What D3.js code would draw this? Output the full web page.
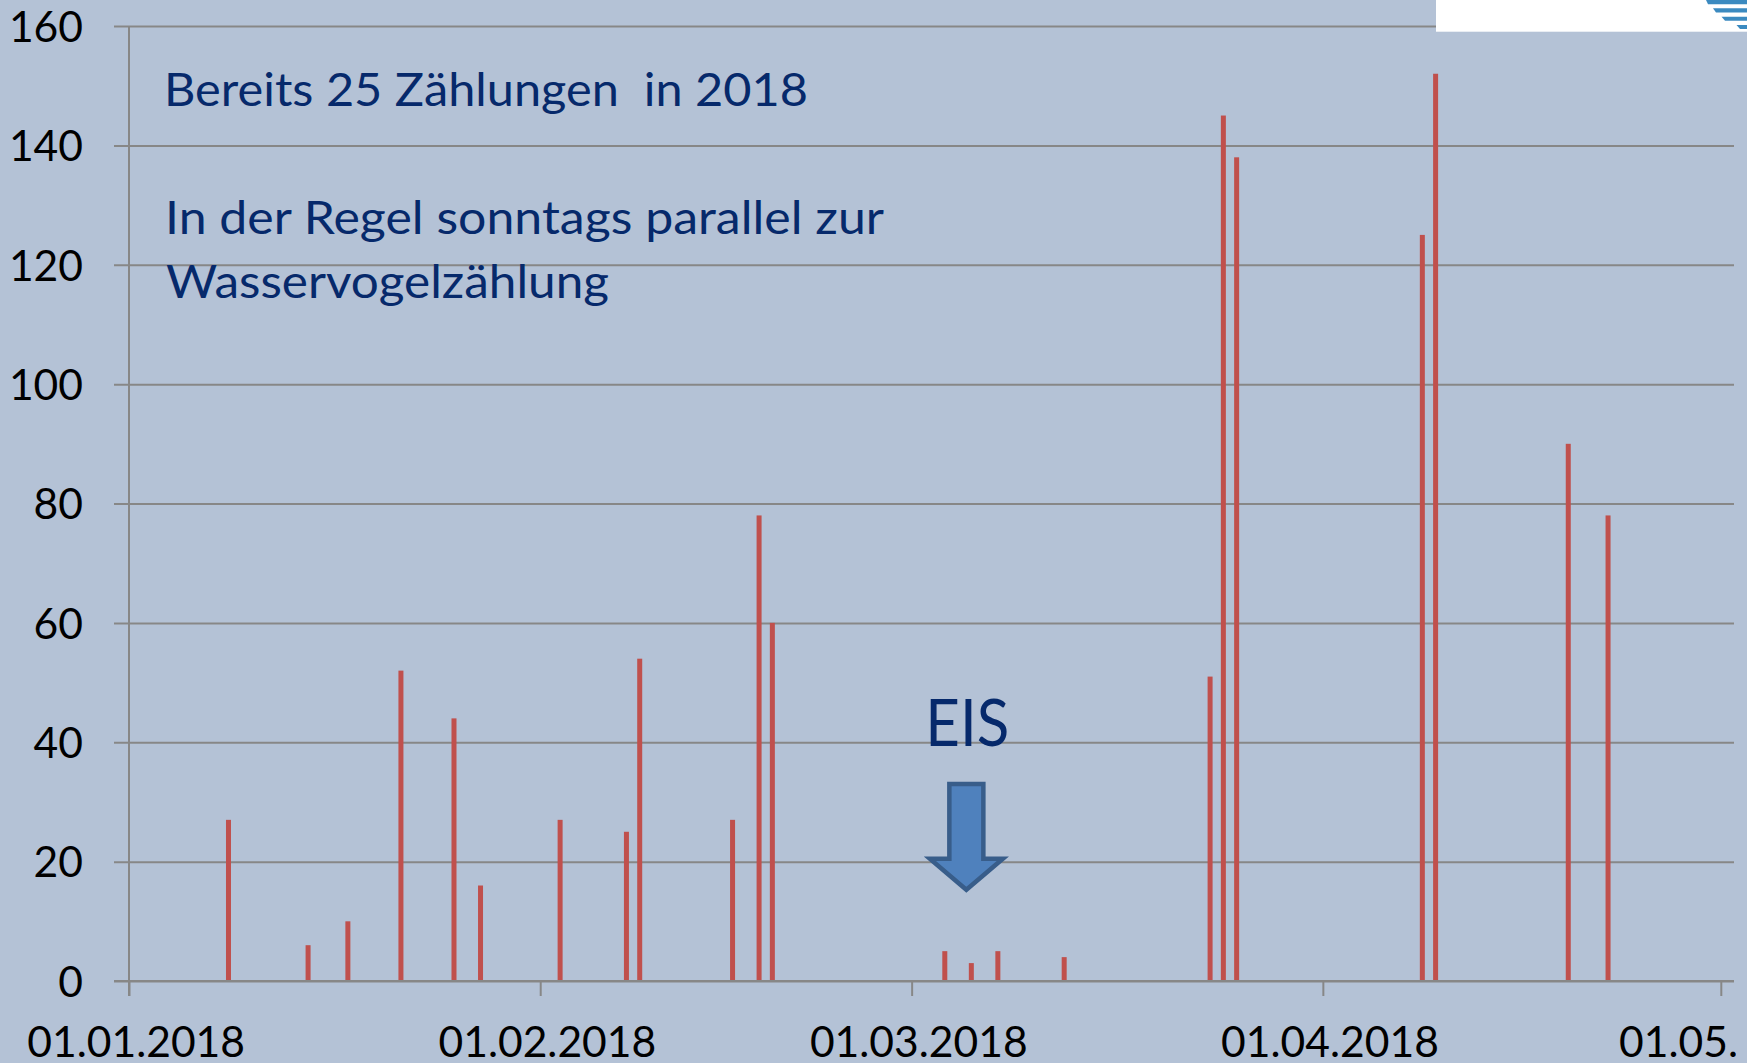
<!DOCTYPE html>
<html>
<head>
<meta charset="utf-8">
<script src="https://cdn.jsdelivr.net/npm/d3@7"></script>
<style>
  html, body { margin: 0; padding: 0; background: #b4c2d6; overflow: hidden; }
  svg { display: block; }
</style>
</head>
<body>
<svg id="chart" width="1747" height="1063"></svg>
<script>
// ---------------- DATA ----------------
const countDates = [
  "2018-01-08", "2018-01-14", "2018-01-17", "2018-01-21", "2018-01-25", "2018-01-27",
  "2018-02-02", "2018-02-07", "2018-02-08", "2018-02-15", "2018-02-17", "2018-02-18",
  "2018-03-03", "2018-03-05", "2018-03-07", "2018-03-12",
  "2018-03-23", "2018-03-24", "2018-03-25",
  "2018-04-08", "2018-04-09", "2018-04-19", "2018-04-22"
];
const countValues = [
  27, 6, 10, 52, 44, 16,
  27, 25, 54, 27, 78, 60,
  5, 3, 5, 4,
  51, 145, 138,
  125, 152, 90, 78
];
const yTickValues = [0, 20, 40, 60, 80, 100, 120, 140, 160];
const xTickDates = ["2018-01-01", "2018-02-01", "2018-03-01", "2018-04-01", "2018-05-01"];
const xTickLabels = ["01.01.2018", "01.02.2018", "01.03.2018", "01.04.2018", "01.05.2018"];
const noteLines = ["Bereits 25 Zählungen  in 2018", "In der Regel sonntags parallel zur", "Wasservogelzählung"];
const eisLabel = "EIS";
// annotation arrow (in data units)
const arrowDate = "2018-03-05T03:00:00Z";
const arrowTop = 33, arrowShoulder = 20.5, arrowTip = 15.3;

// ---------------- LAYOUT ----------------
const svg = d3.select("#chart");
const W = 1747, H = 1063;
const axisX = 129, plotRight = 1734, yTop = 26, yZero = 981;
const parse = s => new Date(s.length > 10 ? s : s + "T00:00:00Z");

const x = d3.scaleUtc()
  .domain([parse("2018-01-01"), parse("2018-05-01")])
  .range([axisX, 1720.8]);
const y = d3.scaleLinear().domain([0, 160]).range([yZero, yTop]);
const halfDay = (x(parse("2018-01-02")) - x(parse("2018-01-01"))) / 2;

const gridColor = "#878787";
const fontFam = "Lato, 'Open Sans', sans-serif";

svg.append("rect").attr("width", W).attr("height", H).attr("fill", "#b4c2d6");

const defs = svg.append("defs");
defs.append("clipPath").attr("id", "clipR")
  .append("rect").attr("x", 0).attr("y", 0).attr("width", plotRight + 2).attr("height", H);

// gridlines + y axis (ticks extend left)
const yAxis = d3.axisLeft(y)
  .tickValues(yTickValues)
  .tickSize(-(plotRight - axisX))
  .tickPadding(0)
  .tickFormat(d3.format("d"));
const gy = svg.append("g").attr("transform", `translate(${axisX},0)`).call(yAxis);
gy.select(".domain").remove();
gy.selectAll(".tick line")
  .attr("x1", -15)
  .attr("stroke", gridColor).attr("stroke-width", 2);
gy.selectAll(".tick text")
  .attr("x", -46).attr("dy", "0.36em")
  .attr("fill", "#000")
  .style("font-family", fontFam).style("font-size", "42.6px");

// y axis vertical line
svg.append("line")
  .attr("x1", axisX).attr("x2", axisX)
  .attr("y1", y(160)).attr("y2", yZero + 15)
  .attr("stroke", gridColor).attr("stroke-width", 2);

// x axis
const xAxis = d3.axisBottom(x)
  .tickValues(xTickDates.map(parse))
  .tickSize(15)
  .tickFormat((d, i) => xTickLabels[i]);
const gx = svg.append("g")
  .attr("transform", `translate(0,${yZero})`)
  .attr("clip-path", "url(#clipR)")
  .call(xAxis);
gx.select(".domain").remove();
gx.selectAll(".tick line").attr("stroke", gridColor).attr("stroke-width", 2);
gx.selectAll(".tick text")
  .attr("x", halfDay).attr("y", 76).attr("dy", 0)
  .attr("fill", "#000")
  .style("font-family", fontFam).style("font-size", "42.6px");
gx.selectAll("text").attr("font-family", null);

// bars
const barW = 5;
svg.append("g").selectAll("rect")
  .data(countDates.map((d, i) => ({ date: parse(d), v: countValues[i] })))
  .join("rect")
  .attr("x", d => x(d.date) + halfDay - barW / 2)
  .attr("y", d => y(d.v))
  .attr("width", barW)
  .attr("height", d => y(0) - y(d.v))
  .attr("fill", "#c0504d");

// zero line on top
svg.append("line")
  .attr("x1", axisX - 15).attr("x2", plotRight)
  .attr("y1", yZero).attr("y2", yZero)
  .attr("stroke", gridColor).attr("stroke-width", 2);

// annotation texts
const noteColor = "#06296b";
const notes = [
  { t: noteLines[0], x: 164, y: 106, len: 644 },
  { t: noteLines[1], x: 165, y: 233.5, len: 719 },
  { t: noteLines[2], x: 166, y: 297.5, len: 443 }
];
svg.append("g").selectAll("text")
  .data(notes)
  .join("text")
  .attr("x", d => d.x).attr("y", d => d.y)
  .attr("fill", noteColor)
  .attr("textLength", d => d.len)
  .attr("lengthAdjust", "spacingAndGlyphs")
  .style("font-family", fontFam)
  .style("font-size", "46px")
  .style("white-space", "pre")
  .text(d => d.t);

// arrow + EIS
const ax = x(parse(arrowDate));
const bodyHalf = 17, headHalf = 36.5;
const arrowPath = d3.path();
arrowPath.moveTo(ax - bodyHalf, y(arrowTop));
arrowPath.lineTo(ax + bodyHalf, y(arrowTop));
arrowPath.lineTo(ax + bodyHalf, y(arrowShoulder));
arrowPath.lineTo(ax + headHalf, y(arrowShoulder));
arrowPath.lineTo(ax, y(arrowTip));
arrowPath.lineTo(ax - headHalf, y(arrowShoulder));
arrowPath.lineTo(ax - bodyHalf, y(arrowShoulder));
arrowPath.closePath();
svg.append("path")
  .attr("d", arrowPath.toString())
  .attr("fill", "#4f81bd")
  .attr("stroke", "#385d8a")
  .attr("stroke-width", 4.5)
  .attr("stroke-linejoin", "miter");

svg.append("text")
  .attr("x", ax + 1).attr("y", y(39.45))
  .attr("text-anchor", "middle")
  .attr("fill", noteColor)
  .attr("textLength", 84)
  .attr("lengthAdjust", "spacingAndGlyphs")
  .style("font-family", fontFam)
  .style("font-size", "66.5px")
  .text(eisLabel);

// top-right white box with partial logo
svg.append("rect")
  .attr("x", 1436).attr("y", 0).attr("width", W - 1436).attr("height", 31.7)
  .attr("fill", "#ffffff");
const stripes = [
  [0, 4.2, 1706, 1708],
  [8.3, 12.4, 1713, 1716],
  [16.7, 20.7, 1721.5, 1725],
  [25, 29, 1736.5, 1740]
];
svg.append("g").selectAll("path")
  .data(stripes)
  .join("path")
  .attr("d", s => `M${s[2]},${s[0]}L${W},${s[0]}L${W},${s[1]}L${s[3]},${s[1]}Z`)
  .attr("fill", "#3b8ac0");
</script>
</body>
</html>
